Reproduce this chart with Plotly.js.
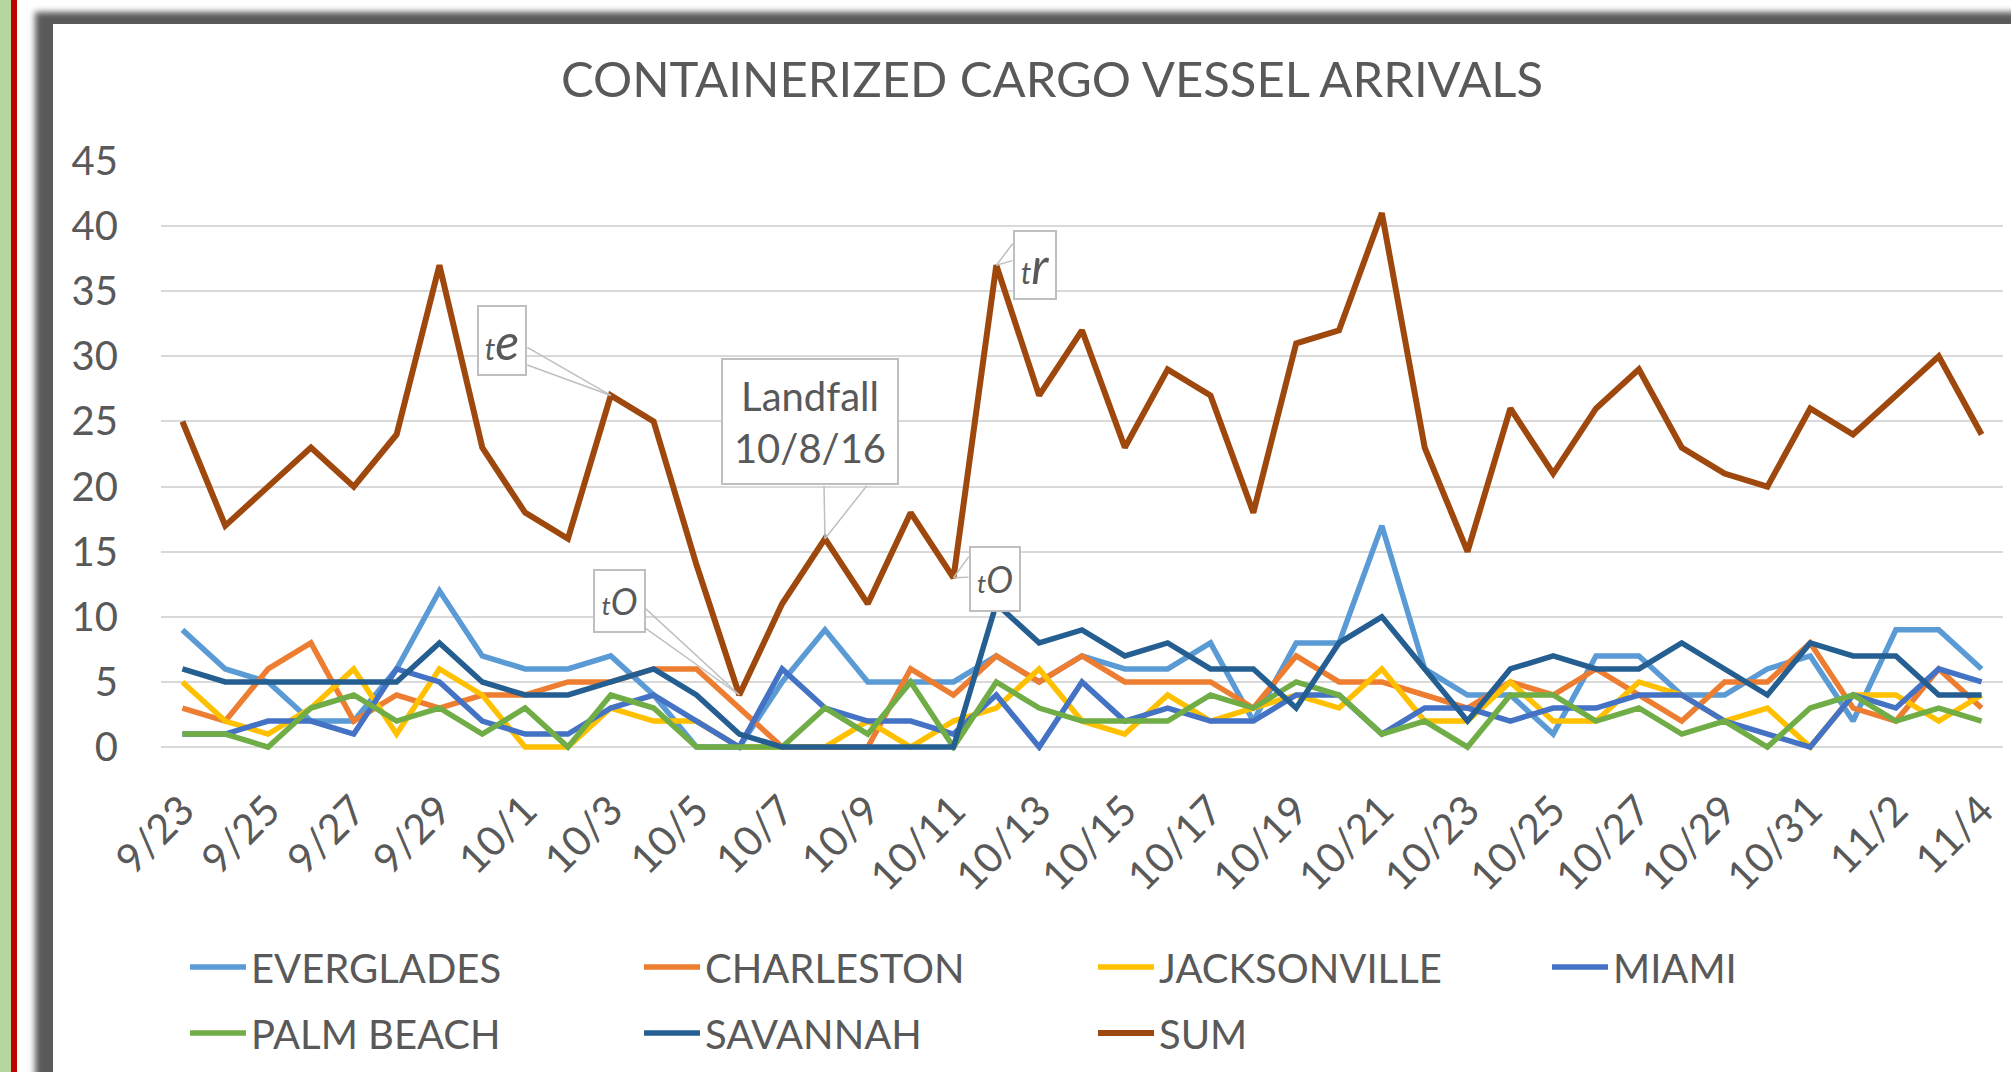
<!DOCTYPE html>
<html>
<head>
<meta charset="utf-8">
<script src="https://cdn.plot.ly/plotly-3.0.1.min.js"></script>
<style>
  html, body { margin:0; padding:0; width:2011px; height:1072px; overflow:hidden; background:#ffffff; }
  #green { position:absolute; left:0; top:0; width:11px; height:1072px; background:#b5d79d; }
  #red { position:absolute; left:11px; top:0; width:6px; height:1072px; background:#c00000; }
  #frame { position:absolute; left:35px; top:12px; width:2020px; height:1100px; background:#5a5a5a; filter:blur(3px); }
  #white { position:absolute; left:53px; top:24px; width:1958px; height:1048px; background:#ffffff; }
  #chart { position:absolute; left:0; top:0; width:2011px; height:1072px; }
</style>
</head>
<body>
<div id="green"></div>
<div id="red"></div>
<div id="frame"></div>
<div id="white"></div>
<div id="chart"></div>
<script>
// ---- data ----
const dates = ["9/23","9/24","9/25","9/26","9/27","9/28","9/29","9/30","10/1","10/2","10/3","10/4","10/5","10/6","10/7","10/8","10/9","10/10","10/11","10/12","10/13","10/14","10/15","10/16","10/17","10/18","10/19","10/20","10/21","10/22","10/23","10/24","10/25","10/26","10/27","10/28","10/29","10/30","10/31","11/1","11/2","11/3","11/4"];
const tickLabels = ["9/23","9/25","9/27","9/29","10/1","10/3","10/5","10/7","10/9","10/11","10/13","10/15","10/17","10/19","10/21","10/23","10/25","10/27","10/29","10/31","11/2","11/4"];
const everglades   = [9,6,5,2,2,6,12,7,6,6,7,4,0,0,5,9,5,5,5,7,5,7,6,6,8,2,8,8,17,6,4,4,1,7,7,4,4,6,7,2,9,9,6];
const charleston   = [3,2,6,8,2,4,3,4,4,5,5,6,6,3,0,0,0,6,4,7,5,7,5,5,5,3,7,5,5,4,3,5,4,6,4,2,5,5,8,3,2,6,3];
const jacksonville = [5,2,1,3,6,1,6,4,0,0,3,2,2,0,0,0,2,0,2,3,6,2,1,4,2,3,4,3,6,2,2,5,2,2,5,4,2,3,0,4,4,2,4];
const miami        = [1,1,2,2,1,6,5,2,1,1,3,4,2,0,6,3,2,2,1,4,0,5,2,3,2,2,4,4,1,3,3,2,3,3,4,4,2,1,0,4,3,6,5];
const palmBeach    = [1,1,0,3,4,2,3,1,3,0,4,3,0,0,0,3,1,5,0,5,3,2,2,2,4,3,5,4,1,2,0,4,4,2,3,1,2,0,3,4,2,3,2];
const savannah     = [6,5,5,5,5,5,8,5,4,4,5,6,4,1,0,0,0,0,0,11,8,9,7,8,6,6,3,8,10,6,2,6,7,6,6,8,6,4,8,7,7,4,4];
const sum          = [25,17,20,23,20,24,37,23,18,16,27,25,14,4,11,16,11,18,13,37,27,32,23,29,27,18,31,32,41,23,15,26,21,26,29,23,21,20,26,24,27,30,24];
const seriesNames  = ["EVERGLADES","CHARLESTON","JACKSONVILLE","MIAMI","PALM BEACH","SAVANNAH","SUM"];
const chartTitle   = "CONTAINERIZED CARGO VESSEL ARRIVALS";
const landfallText = "Landfall<br>10/8/16";

// ---- styling ----
const colors = ["#5B9BD5","#ED7D31","#FFC000","#4472C4","#70AD47","#255E91","#9E480E"];
const values = [everglades, charleston, jacksonville, miami, palmBeach, savannah, sum];
const FONT = "Lato, 'Open Sans', sans-serif";
const TXT = "#595959";

const traces = values.map((v, k) => ({
  type: "scatter",
  mode: "lines",
  x: dates,
  y: v,
  name: seriesNames[k],
  line: { color: colors[k], width: k === 6 ? 6 : 5.5 },
  legend: k < 4 ? "legend" : "legend2",
  hoverinfo: "skip"
}));

// callouts: tip anchored at data point of SUM
const grey = "#bfbfbf";
function callout(idx, text, dx, dy, w, h, base1, base2, fontSize) {
  const x = dates[idx], y = sum[idx];
  const common = { x: x, y: y, xref: "x", yref: "y" };
  return [
    Object.assign({}, common, { text: "", showarrow: true, arrowhead: 0, arrowwidth: 1.5, arrowcolor: grey, ax: base1[0], ay: base1[1], standoff: 0, startstandoff: 0 }),
    Object.assign({}, common, { text: "", showarrow: true, arrowhead: 0, arrowwidth: 1.5, arrowcolor: grey, ax: base2[0], ay: base2[1], standoff: 0, startstandoff: 0 }),
    Object.assign({}, common, { text: text, showarrow: false, xshift: dx, yshift: -dy, width: w, height: h,
      bgcolor: "#ffffff", bordercolor: grey, borderwidth: 2, borderpad: 0,
      font: { family: FONT, size: fontSize, color: TXT }, align: "center", valign: "middle" })
  ];
}
const it = (a, b, sa, sb) => `<i><span style="font-size:${sa}px">${a}</span><span style="font-size:${sb}px">${b}</span></i>`;

let annotations = [];
annotations = annotations.concat(callout(10, it("t","e",30,50), -109, -54.5, 46, 67, [-85,-49], [-85,-31], 50));
annotations = annotations.concat(callout(15, landfallText, -15, -117, 174, 123, [-1,-54.5], [43,-54.5], 40));
annotations = annotations.concat(callout(13, it("t","O",26,36), -120, -94, 49, 60, [-95.5,-88], [-95.5,-68], 36));
annotations = annotations.concat(callout(18, it("t","O",26,36), 41.4, 1.4, 48, 62, [16.4,-22.6], [16.4,-0.6], 36));
annotations = annotations.concat(callout(19, it("t","r",30,50), 38.5, 0, 40, 66, [17.5,-23], [17.5,-5], 50));

const W = 2011, H = 1072;
const legendBase = {
  orientation: "h",
  xref: "container", yref: "container",
  x: 185 / W, xanchor: "left",
  yanchor: "middle",
  entrywidth: 383, entrywidthmode: "pixels",
  itemwidth: 56,
  font: { family: FONT, size: 40, color: TXT },
  bgcolor: "rgba(0,0,0,0)", borderwidth: 0
};
const layout = {
  width: W, height: H,
  paper_bgcolor: "rgba(0,0,0,0)",
  plot_bgcolor: "rgba(0,0,0,0)",
  margin: { l: 161, r: 8, t: 160.5, b: 321.1, pad: 0 },
  font: { family: FONT, color: TXT, size: 40 },
  title: {
    text: chartTitle,
    font: { family: FONT, size: 49, color: TXT },
    xref: "container", yref: "container",
    x: 1052 / W, xanchor: "center",
    y: 1 - 80 / H, yanchor: "middle"
  },
  xaxis: {
    type: "category",
    range: [-0.5, dates.length - 0.5],
    tickmode: "array",
    tickvals: tickLabels,
    ticktext: tickLabels,
    tickangle: -45,
    tickfont: { family: FONT, size: 41, color: TXT },
    showgrid: false,
    showline: false,
    ticks: "",
    ticklabelstandoff: 26,
    fixedrange: true
  },
  yaxis: {
    range: [-0.3, 45],
    tickmode: "linear", tick0: 0, dtick: 5,
    tickfont: { family: FONT, size: 40, color: TXT },
    showgrid: true, gridcolor: "#d9d9d9", gridwidth: 2,
    zeroline: true, zerolinecolor: "#d9d9d9", zerolinewidth: 2,
    showline: false, ticks: "",
    ticklabelstandoff: 42,
    fixedrange: true
  },
  showlegend: true,
  legend: Object.assign({}, legendBase, { y: 1 - 967 / H }),
  legend2: Object.assign({}, legendBase, { y: 1 - 1033 / H }),
  annotations: annotations
};

Plotly.newPlot("chart", traces, layout, { displayModeBar: false, staticPlot: true });
</script>
</body>
</html>
